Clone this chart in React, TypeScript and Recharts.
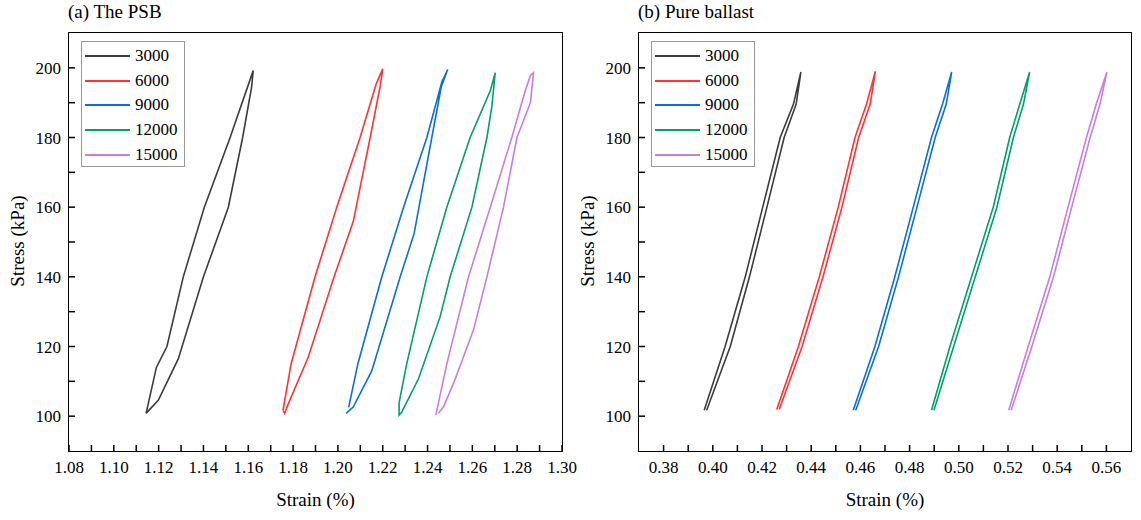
import React from 'react';
import { LineChart, Line, XAxis, YAxis } from 'recharts';

type Pt = { x: number; y: number };

// (a) The PSB — each loop: loading branch then unloading branch
const psb3000: Pt[] = [
  { x: 1.1144, y: 100.8 }, { x: 1.119, y: 114 }, { x: 1.1237, y: 120 }, { x: 1.131, y: 140 },
  { x: 1.1404, y: 160 }, { x: 1.1519, y: 180 }, { x: 1.1622, y: 199.2 }, { x: 1.1615, y: 194.5 },
  { x: 1.1575, y: 180 }, { x: 1.1511, y: 160 }, { x: 1.140, y: 140 }, { x: 1.1288, y: 116.5 },
  { x: 1.1199, y: 104.6 }, { x: 1.1144, y: 100.8 },
];
const psb6000: Pt[] = [
  { x: 1.1755, y: 101.7 }, { x: 1.1791, y: 115 }, { x: 1.1898, y: 140 }, { x: 1.1995, y: 160 },
  { x: 1.2099, y: 180 }, { x: 1.2171, y: 195.4 }, { x: 1.22, y: 199.7 }, { x: 1.2188, y: 194.5 },
  { x: 1.2144, y: 180 }, { x: 1.2069, y: 156 }, { x: 1.1983, y: 140 }, { x: 1.1868, y: 117 },
  { x: 1.1779, y: 103.6 }, { x: 1.1762, y: 100.8 }, { x: 1.1755, y: 101.7 },
];
const psb9000: Pt[] = [
  { x: 1.2048, y: 102.5 }, { x: 1.2089, y: 115 }, { x: 1.2196, y: 140 }, { x: 1.2293, y: 160 },
  { x: 1.2397, y: 180 }, { x: 1.2464, y: 196 }, { x: 1.249, y: 199.5 }, { x: 1.2461, y: 194.5 },
  { x: 1.2419, y: 180 }, { x: 1.234, y: 152.4 }, { x: 1.2278, y: 140 }, { x: 1.2151, y: 113 },
  { x: 1.2069, y: 102.7 }, { x: 1.2037, y: 100.8 },
];
const psb12000: Pt[] = [
  { x: 1.2273, y: 103.8 }, { x: 1.2307, y: 115 }, { x: 1.2397, y: 140 }, { x: 1.2486, y: 160 },
  { x: 1.259, y: 180 }, { x: 1.268, y: 193.4 }, { x: 1.2702, y: 198.6 }, { x: 1.2687, y: 189 },
  { x: 1.2665, y: 180 }, { x: 1.2598, y: 160 }, { x: 1.2501, y: 140 }, { x: 1.2456, y: 128.5 },
  { x: 1.236, y: 110.8 }, { x: 1.2285, y: 101.2 }, { x: 1.2273, y: 100.3 }, { x: 1.2273, y: 103.8 },
];
const psb15000: Pt[] = [
  { x: 1.2437, y: 100.3 }, { x: 1.2486, y: 115 }, { x: 1.2583, y: 140 }, { x: 1.268, y: 160 },
  { x: 1.2776, y: 180 }, { x: 1.2836, y: 193.4 }, { x: 1.2859, y: 197.8 }, { x: 1.2873, y: 198.6 },
  { x: 1.2859, y: 190 }, { x: 1.2799, y: 180 }, { x: 1.2739, y: 160 }, { x: 1.2665, y: 140 },
  { x: 1.2605, y: 124.7 }, { x: 1.2516, y: 109.4 }, { x: 1.2471, y: 102.7 }, { x: 1.2449, y: 100.8 },
];

// (b) Pure ballast
const pb3000: Pt[] = [
  { x: 0.3965, y: 101.7 }, { x: 0.405, y: 120 }, { x: 0.4132, y: 140 }, { x: 0.4203, y: 160 },
  { x: 0.4274, y: 180 }, { x: 0.4328, y: 189.6 }, { x: 0.4358, y: 198.8 }, { x: 0.4339, y: 189.6 },
  { x: 0.429, y: 180 }, { x: 0.422, y: 160 }, { x: 0.4149, y: 140 }, { x: 0.4071, y: 120 },
  { x: 0.3975, y: 101.7 },
];
const pb6000: Pt[] = [
  { x: 0.426, y: 101.9 }, { x: 0.4348, y: 120 }, { x: 0.4433, y: 140 }, { x: 0.451, y: 160 },
  { x: 0.4578, y: 180 }, { x: 0.4625, y: 189.6 }, { x: 0.4661, y: 199 }, { x: 0.464, y: 189.6 },
  { x: 0.4593, y: 180 }, { x: 0.4525, y: 160 }, { x: 0.4448, y: 140 }, { x: 0.4363, y: 120 },
  { x: 0.427, y: 101.9 },
];
const pb9000: Pt[] = [
  { x: 0.4571, y: 101.7 }, { x: 0.4659, y: 120 }, { x: 0.474, y: 140 }, { x: 0.4815, y: 160 },
  { x: 0.4889, y: 180 }, { x: 0.4934, y: 189.6 }, { x: 0.4971, y: 198.8 }, { x: 0.4949, y: 189.6 },
  { x: 0.4904, y: 180 }, { x: 0.483, y: 160 }, { x: 0.4755, y: 140 }, { x: 0.4674, y: 120 },
  { x: 0.4581, y: 101.7 },
];
const pb12000: Pt[] = [
  { x: 0.4889, y: 101.7 }, { x: 0.4964, y: 120 }, { x: 0.5052, y: 140 }, { x: 0.514, y: 160 },
  { x: 0.5207, y: 180 }, { x: 0.5248, y: 189.6 }, { x: 0.5288, y: 198.8 }, { x: 0.5263, y: 189.6 },
  { x: 0.5222, y: 180 }, { x: 0.5155, y: 160 }, { x: 0.5067, y: 140 }, { x: 0.4979, y: 120 },
  { x: 0.4899, y: 101.7 },
];
const pb15000: Pt[] = [
  { x: 0.5203, y: 101.7 }, { x: 0.5282, y: 120 }, { x: 0.537, y: 140 }, { x: 0.5444, y: 160 },
  { x: 0.5519, y: 180 }, { x: 0.5559, y: 189.6 }, { x: 0.5602, y: 198.8 }, { x: 0.5574, y: 189.6 },
  { x: 0.5534, y: 180 }, { x: 0.5459, y: 160 }, { x: 0.5385, y: 140 }, { x: 0.5297, y: 120 },
  { x: 0.5213, y: 101.7 },
];

const cycles = ['3000', '6000', '9000', '12000', '15000'];
const colors = ['#3c3c3c', '#ff3333', '#0a6ee0', '#00a066', '#c77ce8'];

const psbX = [1.08, 1.09, 1.10, 1.11, 1.12, 1.13, 1.14, 1.15, 1.16, 1.17, 1.18, 1.19, 1.20, 1.21, 1.22, 1.23, 1.24, 1.25, 1.26, 1.27, 1.28, 1.29, 1.30];
const pbX = [0.38, 0.39, 0.40, 0.41, 0.42, 0.43, 0.44, 0.45, 0.46, 0.47, 0.48, 0.49, 0.50, 0.51, 0.52, 0.53, 0.54, 0.55, 0.56];
const yTicks = [100, 110, 120, 130, 140, 150, 160, 170, 180, 190, 200];

const font = '"Liberation Serif", "DejaVu Serif", serif';

const XTick = (props: any) => {
  const { x, y, payload } = props;
  const v = payload.value;
  if (Math.round(v * 100) % 2 !== 0) return <g />;
  return (
    <text x={x} y={y + 14} textAnchor="middle" fontSize={17} fontFamily={font} style={{ fontFamily: font }} fill="#000">
      {v.toFixed(2)}
    </text>
  );
};

const YTick = (props: any) => {
  const { x, y, payload } = props;
  const v = payload.value;
  if (v % 20 !== 0) return <g />;
  return (
    <text x={x} y={y + 6} textAnchor="end" fontSize={17} fontFamily={font} style={{ fontFamily: font }} fill="#000">
      {v}
    </text>
  );
};

const Legend = ({ left, top }: { left: number; top: number }) => (
  <div
    style={{
      position: 'absolute', left, top, width: 104, height: 126, border: '1px solid #999',
      background: '#fff', fontFamily: font, fontSize: 17, boxSizing: 'border-box', paddingTop: 2,
    }}
  >
    {cycles.map((c, i) => (
      <div key={c} style={{ display: 'flex', alignItems: 'center', height: 24.6 }}>
        <div style={{ width: 45, height: 2, background: colors[i], marginLeft: 3, marginRight: 5 }} />
        <span>{c}</span>
      </div>
    ))}
  </div>
);

const Panel = ({ left, width, rightMargin, title, xDomain, xTicks, series }: any) => (
  <div style={{ position: 'absolute', left, top: 0, width, height: 520 }}>
    <LineChart width={width} height={520} margin={{ top: 33, right: rightMargin, left: 29, bottom: 29 }}>
      <XAxis dataKey="x" type="number" domain={xDomain} ticks={xTicks} interval={0} allowDataOverflow
        axisLine={false} tickLine={{ stroke: '#000', strokeWidth: 1.5 }} tickSize={-6} tickMargin={14}
        tick={<XTick />} height={40} />
      <YAxis type="number" domain={[90, 210]} ticks={yTicks} interval={0} allowDataOverflow
        axisLine={false} tickLine={{ stroke: '#000', strokeWidth: 1.5 }} tickSize={-6} tickMargin={14}
        tick={<YTick />} width={40} />
      {series.map((d: Pt[], i: number) => (
        <Line key={cycles[i]} data={d} dataKey="y" type="linear" stroke={colors[i]} strokeWidth={1.6}
          dot={false} isAnimationActive={false} />
      ))}
    </LineChart>
    <div style={{ position: 'absolute', left: 68, top: 32, width: width - 69 - rightMargin, height: 418, border: '1.5px solid #000', pointerEvents: 'none' }} />
    <div style={{ position: 'absolute', left: 68, top: 1, fontFamily: font, fontSize: 19 }}>{title}</div>
    <div style={{ position: 'absolute', left: 69, width: width - 69 - rightMargin, top: 489, textAlign: 'center', fontFamily: font, fontSize: 19 }}>
      Strain (%)
    </div>
    <div style={{ position: 'absolute', left: -42, top: 230, width: 120, textAlign: 'center', transform: 'rotate(-90deg)', fontFamily: font, fontSize: 19 }}>
      Stress (kPa)
    </div>
    <Legend left={81} top={41} />
  </div>
);

export default function App() {
  return (
    <div style={{ position: 'absolute', left: 0, top: 0, width: 1141, height: 520, background: '#fff' }}>
      <Panel left={0} width={580} rightMargin={18} title="(a) The PSB" xDomain={[1.08, 1.30]} xTicks={psbX}
        series={[psb3000, psb6000, psb9000, psb12000, psb15000]} />
      <Panel left={570} width={571} rightMargin={10} title="(b) Pure ballast" xDomain={[0.37, 0.57]} xTicks={pbX}
        series={[pb3000, pb6000, pb9000, pb12000, pb15000]} />
    </div>
  );
}
